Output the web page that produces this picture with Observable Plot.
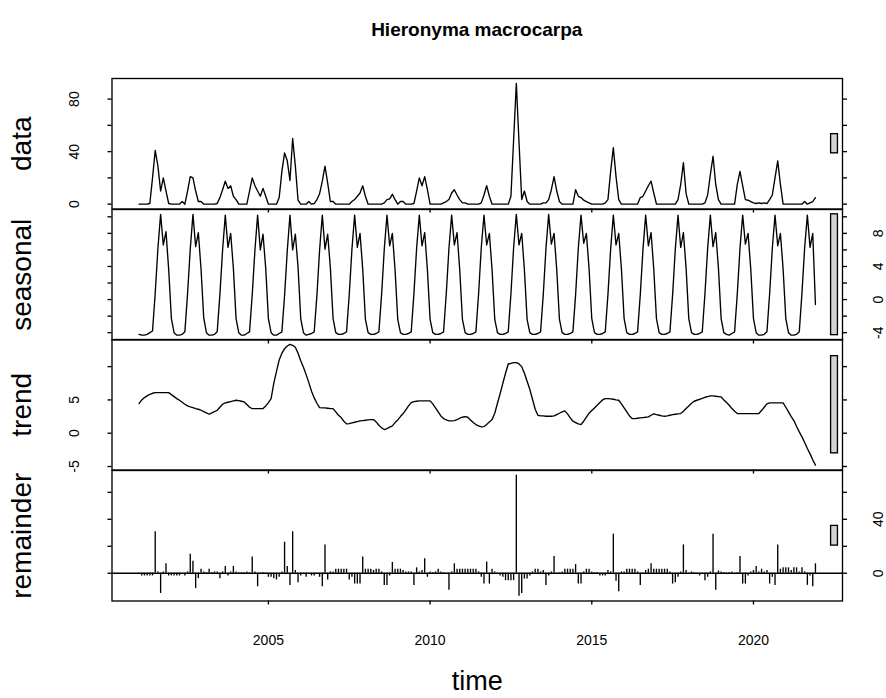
<!DOCTYPE html>
<html>
<head>
<meta charset="utf-8">
<script src="https://cdn.jsdelivr.net/npm/d3@7"></script>
<script src="https://cdn.jsdelivr.net/npm/@observablehq/plot@0.6"></script>
<style>
  html, body { margin: 0; padding: 0; background: #fff; }
  #chart { position: relative; width: 886px; height: 698px; background: #fff; font-family: "Liberation Sans", Arial, sans-serif; overflow: hidden; }
  #title { position: absolute; top: 19px; font-weight: bold; font-size: 19px; text-align: center; color: #000; }
</style>
</head>
<body>
<div id="chart"><div id="title"></div></div>
<script>
// ---------------- data (monthly, Jan 2001 .. Dec 2021) ----------------
const startYear = 2001;
const monthsPerYear = 12;

const dataValues = [
  0, 0, 0, 0, 0.5, 20, 41, 29, 10, 20, 10, 0.5,
  0, 0, 0, 0, 2, 0, 10, 21, 20, 10, 2, 2,
  0, 0, 0, 0, 0, 0.5, 5, 11, 17.5, 12, 14, 6,
  3.5, 0, 0, 0, 0, 10, 20, 14, 10, 6, 12, 6,
  0, 0, 0, 0, 5, 25, 39, 33, 18, 50, 29, 3,
  0, 0, 0, 2, 0, 0.5, 3.5, 8, 17.5, 29, 16, 2,
  2, 0, 0, 0, 0, 0, 0, 2, 3.5, 6, 8.5, 14,
  6, 0, 0, 0, 0, 0, 0, 1, 3.5, 4, 7.5, 3.5,
  0, 2, 2, 0, 0, 0, 0.5, 10, 20, 14, 21, 11,
  0, 0, 0, 0, 0, 1, 2, 3.5, 8.5, 11, 7, 3.5,
  1, 1, 0, 0, 0, 0, 0, 1, 7, 14, 6, 0,
  0, 0, 0, 0, 0, 0, 6, 49, 92, 47, 3.5, 10,
  2, 0, 0, 0, 0, 0, 1, 1, 3.5, 11, 21, 10,
  2, 0, 0, 0, 0, 0, 11, 6, 5, 3, 2, 1,
  0, 0, 0, 0, 0, 1, 3.5, 25, 43, 21, 3.5, 0,
  0, 0, 0, 0, 0, 0, 5, 6, 10, 14, 17.5, 8.5,
  0, 0, 0, 0, 0, 0, 0, 0, 3.5, 15, 31.5, 8,
  0, 0, 0, 0, 0, 0, 1, 7, 22.5, 36.5, 15, 3.5,
  0, 0, 0, 0, 0, 0, 15, 25, 14, 3.5, 3, 2,
  1, 0.5, 1, 0.5, 1, 0.5, 3.5, 7, 20, 33, 15, 0,
  0, 0, 0, 0, 0, 0, 0, 2, 0, 1, 2, 5
];

const seasonalValues = [
  -4.2, -4.3, -4.3, -4.2, -4.0, -3.8, 0.8, 6.2, 10.3, 6.6, 8.2, 3.6,
  -2.3, -4.0, -4.3, -4.3, -4.2, -3.9, 0.7, 6.1, 10.3, 6.4, 8.1, 3.7,
  -2.2, -4.0, -4.3, -4.3, -4.2, -3.9, 0.6, 6.0, 10.2, 6.3, 8.0, 3.8,
  -2.3, -4.0, -4.3, -4.3, -4.1, -3.9, 0.6, 6.0, 10.2, 6.0, 7.9, 3.8,
  -2.3, -4.0, -4.3, -4.3, -4.1, -3.9, 0.5, 5.9, 10.2, 6.0, 7.9, 3.9,
  -2.3, -4.0, -4.3, -4.2, -4.1, -3.9, 0.5, 6.0, 10.2, 6.1, 7.9, 3.8,
  -2.3, -4.0, -4.2, -4.2, -4.1, -3.9, 0.6, 6.1, 10.2, 6.3, 8.0, 3.7,
  -2.4, -4.0, -4.2, -4.2, -4.1, -3.9, 0.6, 6.1, 10.2, 6.5, 8.0, 3.6,
  -2.4, -4.0, -4.2, -4.2, -4.1, -3.9, 0.7, 6.2, 10.2, 6.5, 8.1, 3.6,
  -2.4, -4.0, -4.2, -4.2, -4.1, -3.9, 0.7, 6.2, 10.2, 6.6, 8.1, 3.6,
  -2.4, -4.0, -4.2, -4.2, -4.1, -3.9, 0.7, 6.3, 10.2, 6.6, 8.0, 3.6,
  -2.4, -4.0, -4.2, -4.2, -4.1, -3.9, 0.7, 6.3, 10.3, 6.6, 8.0, 3.6,
  -2.4, -4.0, -4.2, -4.2, -4.1, -3.9, 0.6, 6.2, 10.3, 6.7, 8.0, 3.6,
  -2.4, -4.0, -4.2, -4.2, -4.1, -3.9, 0.6, 6.2, 10.2, 6.8, 8.0, 3.7,
  -2.3, -4.0, -4.2, -4.2, -4.1, -3.9, 0.6, 6.1, 10.2, 6.6, 8.0, 3.7,
  -2.3, -4.0, -4.2, -4.2, -4.1, -3.9, 0.6, 6.1, 10.2, 6.5, 8.1, 3.7,
  -2.3, -4.0, -4.2, -4.2, -4.1, -3.9, 0.6, 6.1, 10.2, 6.3, 8.1, 3.8,
  -2.3, -4.0, -4.2, -4.2, -4.1, -3.9, 0.7, 6.2, 10.2, 6.4, 8.1, 3.8,
  -2.3, -4.0, -4.2, -4.3, -4.1, -3.9, 0.7, 6.2, 10.2, 6.7, 8.0, 3.7,
  -2.3, -4.0, -4.3, -4.3, -4.2, -3.9, 0.7, 6.2, 10.2, 6.5, 8.0, 3.7,
  -2.3, -4.0, -4.3, -4.3, -4.2, -3.9, 0.8, 6.3, 10.2, 6.3, 8.0, -0.6
];

const trendValues = [
  4.45, 5.0, 5.35, 5.6, 5.85, 6.0, 6.1, 6.1, 6.1, 6.1, 6.1, 6.1,
  5.8, 5.5, 5.2, 4.95, 4.65, 4.35, 4.1, 3.95, 3.85, 3.7, 3.6, 3.45,
  3.25, 3.05, 2.85, 3.05, 3.25, 3.45, 3.9, 4.35, 4.55, 4.65, 4.75, 4.85,
  4.95, 4.9, 4.8, 4.7, 4.3, 3.9, 3.7, 3.7, 3.7, 3.7, 3.7, 4.1,
  4.6, 5.2, 7.5, 9.3, 11.0, 12.0, 12.7, 13.1, 13.35, 13.2, 12.9, 12.0,
  10.9, 9.9, 8.8, 7.6, 6.3, 5.3, 4.5, 3.85, 3.8, 3.8, 3.75, 3.7,
  3.7, 3.2, 2.7, 2.35, 1.8, 1.4, 1.45, 1.55, 1.65, 1.75, 1.85, 1.9,
  1.95, 2.0, 2.05, 2.05, 1.7, 1.2, 0.8, 0.55, 0.7, 0.9, 1.1, 1.6,
  2.0, 2.5, 2.95, 3.5, 4.1, 4.6, 4.75, 4.8, 4.85, 4.85, 4.85, 4.85,
  4.85, 4.4, 3.8, 3.2, 2.6, 2.2, 2.0, 1.85, 1.85, 1.9, 2.05, 2.25,
  2.4, 2.5, 2.4, 2.0, 1.6, 1.3, 1.1, 0.95, 1.0, 1.3, 1.7, 2.05,
  3.0, 4.5, 5.95, 7.5, 9.0, 10.4, 10.5, 10.6, 10.6, 10.4, 10.0, 9.0,
  7.8, 6.6, 5.1, 3.6, 2.7, 2.6, 2.6, 2.55, 2.55, 2.55, 2.6, 2.8,
  3.0, 3.2, 3.35, 2.9, 2.3, 1.8, 1.6, 1.4, 1.3, 1.8, 2.4, 3.0,
  3.4, 3.8, 4.2, 4.6, 5.0, 5.2, 5.2, 5.15, 5.1, 5.0, 4.95, 4.4,
  3.8, 3.2, 2.6, 2.2, 2.2, 2.25, 2.3, 2.35, 2.4, 2.45, 2.7, 2.9,
  2.8, 2.7, 2.6, 2.55, 2.6, 2.7, 2.8, 2.85, 2.9, 2.95, 3.3, 3.7,
  4.1, 4.5, 4.8, 4.95, 5.1, 5.25, 5.4, 5.5, 5.6, 5.6, 5.55, 5.5,
  5.45, 5.0, 4.6, 4.2, 3.7, 3.3, 2.95, 2.95, 2.95, 2.95, 2.95, 2.95,
  2.95, 2.95, 2.95, 3.4, 3.9, 4.4, 4.55, 4.55, 4.55, 4.55, 4.55, 4.55,
  3.9, 3.2, 2.5, 1.9, 1.0, 0.2, -0.55, -1.4, -2.3, -3.1, -4.0, -4.8
];

const remainderValues = [
  -1, -2, -2, -2, -2, -2, 30.7, 1, -15, 1, 7, -2,
  -2, -2, -2, -2, -1, -2, 1, 14, 8.8, -11.4, -4, 3,
  1, 0.5, 3, 0.5, 1, 1, -4, 1, 5, -2, 1, 5,
  1, 0.5, 0.5, 0.5, 1, 0.5, 12, 1, -10, -1, 0.5, -1,
  -3, -3, -4, -5, -3, 1, 23, 5, -9, 30.7, 2, -7,
  -2, -1, -3, -1, -2, -2, -1, -3, -10, 21, -5, 1,
  1, 3, 3, 3, 3, 3, -5, -3, -8, -8, -8, 12,
  3, 3, 3, 2, 3, 3, 1, -9, -9, -2, 8, 3,
  3, 3, 2, 1, 1, 1, -9, 4, 1, 2, 10.7, -3,
  1, 0.5, 1, 3, 1, 0.5, -1, -12.6, 1, 7, 3, 3,
  3, 3, 3, 3, 3, 3, 1, -3, -8, 8.3, -8, 3,
  1, -1, -2, -3, -5.5, -5.5, -5.5, -5.5, 72.6, -17, -15, -4.3,
  -4.3, -2, 1, 3, 3, 1, 2, -9, -2, 1, 12.4, -1,
  0.5, 1, 3, 3, 3, 3, 6.4, -8, -8, 1, 3, 3,
  1, 0.5, 0.5, -2, -2, -2, 2, 1, 29, -6, -13.8, 1,
  1, 3, 3, 3, 3, 1, -9, -1, 2, 3, 7, 3,
  3, 3, 3, 3, 3, 1, -8, -7, -3, 1, 21, 2,
  -1, 1, 0.5, -1, -2, -1, -5.5, -3, 1, 29, -12.6, 1.7,
  1, 0.5, -1, 0.5, 1, -1, 0.5, 12.4, -8, -8, -2, 1,
  2, 5, 1, 3, 1, 2, -8, -3, -9, 21, 3, 4,
  4, 4, 2, 4, 4, 1, 4, 1, -9, -2, -10, 7
];

const panelNames = ["data", "seasonal", "trend", "remainder"];
const dataTicks = [0, 20, 40, 60, 80];
const dataTickLabels = [0, 40, 80];
const seasonalTicks = [-4, -2, 0, 2, 4, 6, 8, 10];
const seasonalTickLabels = [-4, 0, 4, 8];
const trendTicks = [-5, 0, 5, 10];
const trendTickLabels = [-5, 0, 5];
const remainderTicks = [0, 20, 40, 60];
const remainderTickLabels = [0, 40];
const timeTicks = [2005, 2010, 2015, 2020];
const titleText = "Hieronyma macrocarpa";
const xLabel = "time";

// ---------------- layout ----------------
const W = 886;
const plotLeft = 111.5, plotRight = 842, plotTop = 78, plotBottom = 600;
const panelH = (plotBottom - plotTop) / 4;
const font = "Liberation Sans, Arial, sans-serif";
const lw = 1.35;
const tickFont = 14;

const series = [dataValues, seasonalValues, trendValues, remainderValues];
const tickSets = [dataTicks, seasonalTicks, trendTicks, remainderTicks];
const labelSets = [dataTickLabels, seasonalTickLabels, trendTickLabels, remainderTickLabels];

const n = dataValues.length;
const tFirst = startYear, tLast = startYear + (n - 1) / monthsPerYear;
const xPad = 0.04 * (tLast - tFirst);
const xDomain = [tFirst - xPad, tLast + xPad];
// range bar length: smallest range among the four series (as in R's plot.stl)
const mx = d3.min(series, s => d3.max(s) - d3.min(s));

const chart = document.getElementById("chart");
const title = document.getElementById("title");
title.textContent = titleText;
title.style.left = plotLeft + "px";
title.style.width = (plotRight - plotLeft) + "px";

function makePanel(k) {
  const values = series[k];
  const rows = values.map((v, i) => ({t: startYear + i / monthsPerYear, v}));
  const lo = d3.min(values), hi = d3.max(values);
  const pad = 0.04 * (hi - lo);
  const yDomain = [lo - pad, hi + pad];
  const labelsRight = k % 2 === 1;
  const last = k === series.length - 1;
  const mid = (lo + hi) / 2;
  const dx = (xDomain[1] - xDomain[0]) / 64;
  const bar = [{x1: xDomain[1] - dx, x2: xDomain[1] - 0.4 * dx, y1: mid - mx / 2, y2: mid + mx / 2}];

  const marks = [];
  if (!last) {
    marks.push(Plot.line(rows, {x: "t", y: "v", stroke: "#000", strokeWidth: lw}));
  } else {
    marks.push(Plot.ruleY([0], {stroke: "#000", strokeWidth: lw}));
    marks.push(Plot.ruleX(rows, {x: "t", y1: 0, y2: "v", stroke: "#000", strokeWidth: lw}));
  }
  marks.push(Plot.rect(bar, {x1: "x1", x2: "x2", y1: "y1", y2: "y2", fill: "#d3d3d3", stroke: "#000", strokeWidth: lw}));
  marks.push(Plot.frame({stroke: "#000", strokeWidth: lw}));
  marks.push(Plot.axisY({anchor: "left", ticks: tickSets[k], tickSize: 4, tickFormat: () => "", strokeWidth: lw}));
  marks.push(Plot.axisY({anchor: "right", ticks: tickSets[k], tickSize: 4, tickFormat: () => "", strokeWidth: lw}));
  marks.push(Plot.axisX({anchor: "bottom", ticks: timeTicks, tickSize: 4, tickFormat: () => "", strokeWidth: lw}));
  marks.push(Plot.text(labelSets[k], {
    y: d => d, text: d => String(d),
    frameAnchor: labelsRight ? "right" : "left", dx: labelsRight ? 36 : -37,
    rotate: -90, textAnchor: "middle", lineAnchor: "middle", fontSize: tickFont, fill: "#000"
  }));
  marks.push(Plot.text([panelNames[k]], {
    text: d => d, frameAnchor: "left", dx: -89.5,
    rotate: -90, textAnchor: "middle", lineAnchor: "middle", fontSize: 28, fill: "#000"
  }));
  if (last) {
    marks.push(Plot.text(timeTicks, {
      x: d => d, text: d => String(d), frameAnchor: "bottom", dy: 40,
      lineAnchor: "middle", fontSize: tickFont, fill: "#000"
    }));
    marks.push(Plot.text([xLabel], {
      text: d => d, frameAnchor: "bottom", dy: 80,
      lineAnchor: "middle", fontSize: 27, fill: "#000"
    }));
  }

  const svg = Plot.plot({
    width: W,
    height: panelH,
    marginLeft: plotLeft,
    marginRight: W - plotRight,
    marginTop: 0,
    marginBottom: 0,
    x: {domain: xDomain},
    y: {domain: yDomain},
    style: {overflow: "visible", background: "transparent", fontFamily: font, color: "#000"},
    marks
  });
  svg.style.position = "absolute";
  svg.style.left = "0px";
  svg.style.top = (plotTop + k * panelH) + "px";
  return svg;
}

for (let k = 0; k < series.length; k++) chart.appendChild(makePanel(k));
</script>
</body>
</html>
